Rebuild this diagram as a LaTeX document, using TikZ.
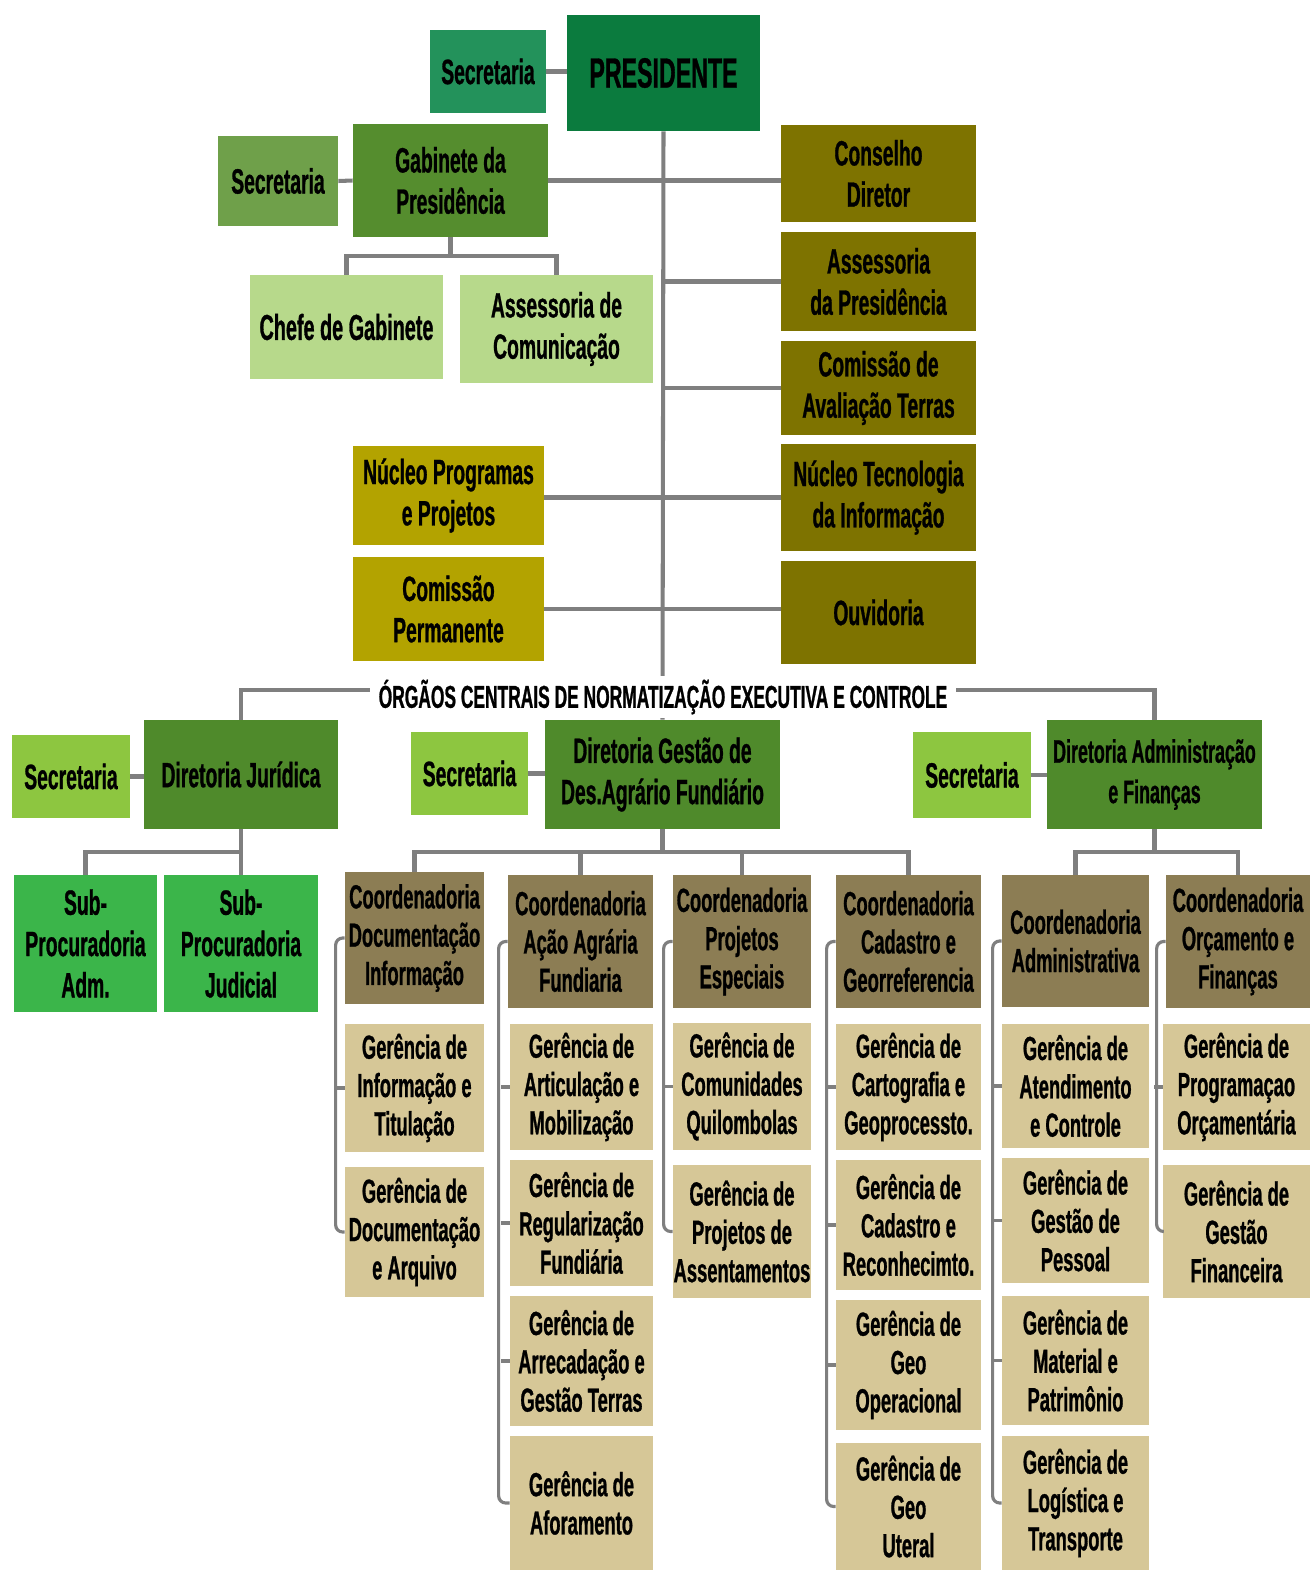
\documentclass[tikz,border=0pt]{standalone}
\usepackage{fontspec}
\setmainfont{Liberation Sans}[FakeStretch=0.55, BoldFeatures={FakeBold=0.8}]
\definecolor{cPres}{HTML}{0B7B3E}
\definecolor{cSecTop}{HTML}{23925B}
\definecolor{cGabSec}{HTML}{6FA04A}
\definecolor{cGab}{HTML}{558D2E}
\definecolor{cLight}{HTML}{B7D98B}
\definecolor{cOlive}{HTML}{7E7300}
\definecolor{cYel}{HTML}{B3A300}
\definecolor{cSecB}{HTML}{8DC640}
\definecolor{cDir}{HTML}{4F8A2B}
\definecolor{cSub}{HTML}{3BB54A}
\definecolor{cCoord}{HTML}{8C7D54}
\definecolor{cGer}{HTML}{D6C797}
\definecolor{cLine}{HTML}{7F7F7F}
\newcommand\orgbox[7]{%
  \pgfmathsetmacro\obw{(#4-#2)*0.02}%
  \pgfmathsetmacro\obh{(#5-#3)*0.02}%
  \node[#6, minimum width=\obw cm, minimum height=\obh cm] (#1) at ({(#2+#4)/2},{(#3+#5)/2}) {#7};}
\tikzset{
  base/.style={inner sep=0pt, align=center, text=black, font=\bfseries\fontsize{20}{23.5}\selectfont},
  small/.style={base, font=\bfseries\fontsize{19}{21.8}\selectfont},
  coordbox/.style={small, fill=cCoord},
  gerbox/.style={small, fill=cGer},
  conn/.style={draw=cLine, line width=2.3pt},
  brk/.style={draw=cLine, line width=1.8pt, rounded corners=4pt},
  sectitle/.style={fill=white, inner xsep=5pt, inner ysep=2pt, font=\bfseries\fontsize{18}{20}\selectfont}
}
\begin{document}
\begin{tikzpicture}[x=0.02cm, y=-0.02cm]
\useasboundingbox (0,0) rectangle (1312,1570);
% ---- boxes: top
\orgbox{secTop}{430}{30}{546}{113}{base, fill=cSecTop}{Secretaria}
\orgbox{pres}{567}{15}{760}{131}{base, fill=cPres, font=\bfseries\fontsize{24}{28}\selectfont}{PRESIDENTE}
\orgbox{gabSec}{218}{136}{338}{226}{base, fill=cGabSec}{Secretaria}
\orgbox{gab}{353}{124}{548}{237}{base, fill=cGab}{Gabinete da\\Presidência}
\orgbox{chefe}{250}{275}{443}{379}{base, fill=cLight, font=\bfseries\fontsize{20.5}{24}\selectfont}{Chefe de Gabinete}
\orgbox{ascom}{460}{275}{653}{383}{base, fill=cLight}{Assessoria de\\Comunicação}
\orgbox{conselho}{781}{125}{976}{222}{base, fill=cOlive}{Conselho\\Diretor}
\orgbox{asspres}{781}{232}{976}{331}{base, fill=cOlive}{Assessoria\\da Presidência}
\orgbox{comav}{781}{341}{976}{435}{base, fill=cOlive}{Comissão de\\Avaliação Terras}
\orgbox{nucTec}{781}{444}{976}{551}{base, fill=cOlive}{Núcleo Tecnologia\\da Informação}
\orgbox{ouv}{781}{561}{976}{664}{base, fill=cOlive}{Ouvidoria}
\orgbox{nucProg}{353}{446}{544}{545}{base, fill=cYel}{Núcleo Programas\\e Projetos}
\orgbox{comPerm}{353}{557}{544}{661}{base, fill=cYel}{Comissão\\Permanente}
% ---- directorates
\orgbox{secJur}{12}{735}{130}{818}{base, fill=cSecB}{Secretaria}
\orgbox{dirJur}{144}{720}{338}{829}{base, fill=cDir}{Diretoria Jurídica}
\orgbox{secGes}{411}{732}{528}{815}{base, fill=cSecB}{Secretaria}
\orgbox{dirGes}{545}{720}{780}{829}{base, fill=cDir}{Diretoria Gestão de\\Des.Agrário Fundiário}
\orgbox{secAdm}{913}{732}{1031}{818}{base, fill=cSecB}{Secretaria}
\orgbox{dirAdm}{1047}{720}{1262}{829}{base, fill=cDir, font=\bfseries\fontsize{18.5}{23}\selectfont}{Diretoria Administração\\e Finanças}
\orgbox{subAdm}{14}{875}{157}{1012}{base, fill=cSub}{Sub-\\Procuradoria\\Adm.}
\orgbox{subJud}{164}{875}{318}{1012}{base, fill=cSub}{Sub-\\Procuradoria\\Judicial}
% ---- coordenadorias
\orgbox{c1}{345}{872}{484}{1004}{coordbox}{Coordenadoria\\Documentação\\Informação}
\orgbox{c2}{508}{875}{653}{1008}{coordbox}{Coordenadoria\\Ação Agrária\\Fundiaria}
\orgbox{c3}{673}{875}{811}{1008}{coordbox}{Coordenadoria\\Projetos\\Especiais}
\orgbox{c4}{836}{875}{981}{1008}{coordbox}{Coordenadoria\\Cadastro e\\Georreferencia}
\orgbox{c5}{1002}{875}{1149}{1007}{coordbox}{Coordenadoria\\Administrativa}
\orgbox{c6}{1166}{875}{1310}{1008}{coordbox}{Coordenadoria\\Orçamento e\\Finanças}
% ---- gerencias
\orgbox{g11}{345}{1024}{484}{1152}{gerbox}{Gerência de\\Informação e\\Titulação}
\orgbox{g12}{345}{1167}{484}{1297}{gerbox}{Gerência de\\Documentação\\e Arquivo}
\orgbox{g21}{510}{1024}{653}{1150}{gerbox}{Gerência de\\Articulação e\\Mobilização}
\orgbox{g22}{510}{1160}{653}{1286}{gerbox}{Gerência de\\Regularização\\Fundiária}
\orgbox{g23}{510}{1296}{653}{1426}{gerbox}{Gerência de\\Arrecadação e\\Gestão Terras}
\orgbox{g24}{510}{1436}{653}{1570}{gerbox}{Gerência de\\Aforamento}
\orgbox{g31}{673}{1023}{811}{1150}{gerbox}{Gerência de\\Comunidades\\Quilombolas}
\orgbox{g32}{673}{1165}{811}{1298}{gerbox}{Gerência de\\Projetos de\\Assentamentos}
\orgbox{g41}{836}{1024}{981}{1150}{gerbox}{Gerência de\\Cartografia e\\Geoprocessto.}
\orgbox{g42}{836}{1160}{981}{1290}{gerbox}{Gerência de\\Cadastro e\\Reconhecimto.}
\orgbox{g43}{836}{1300}{981}{1430}{gerbox}{Gerência de\\Geo\\Operacional}
\orgbox{g44}{836}{1443}{981}{1570}{gerbox}{Gerência de\\Geo\\Uteral}
\orgbox{g51}{1002}{1024}{1149}{1148}{gerbox}{Gerência de\\Atendimento\\e Controle}
\orgbox{g52}{1002}{1158}{1149}{1283}{gerbox}{Gerência de\\Gestão de\\Pessoal}
\orgbox{g53}{1002}{1296}{1149}{1425}{gerbox}{Gerência de\\Material e\\Patrimônio}
\orgbox{g54}{1002}{1436}{1149}{1570}{gerbox}{Gerência de\\Logística e\\Transporte}
\orgbox{g61}{1163}{1024}{1310}{1150}{gerbox}{Gerência de\\Programaçao\\Orçamentária}
\orgbox{g62}{1163}{1165}{1310}{1298}{gerbox}{Gerência de\\Gestão\\Financeira}
% ---- connectors
\draw[conn] (secTop.east) -- (secTop.east -| pres.west);
\draw[conn] (pres.south) -- (dirGes.north);
\draw[conn] (gabSec.east) -- (gab.west);
\draw[conn] (gab.east) -- (gab.east -| conselho.west);
\draw[conn] (gab.south) -- ++(0,19) coordinate (gabj) -| (chefe.north);
\draw[conn] (gabj) -| (ascom.north);
\draw[conn] (pres.south |- asspres.west) -- (asspres.west);
\draw[conn] (pres.south |- comav.west) -- (comav.west);
\draw[conn] (nucProg.east |- nucTec.west) -- (nucTec.west);
\draw[conn] (comPerm.east) -- (comPerm.east -| ouv.west);
\coordinate (hl) at (663,690);
\draw[conn] (dirJur.north) |- (hl) -| (dirAdm.north);
\draw[conn] (secJur.east) -- (secJur.east -| dirJur.west);
\draw[conn] (secGes.east) -- (secGes.east -| dirGes.west);
\draw[conn] (secAdm.east) -- (secAdm.east -| dirAdm.west);
\draw[conn] (dirJur.south) -- ++(0,23) coordinate (jj) -| (subAdm.north);
\draw[conn] (jj) -| (subJud.north);
\draw[conn] (dirGes.south) -- ++(0,23) coordinate (gj);
\draw[conn] (gj) -| (c1.north);
\draw[conn] (gj) -| (c2.north);
\draw[conn] (gj) -| (c3.north);
\draw[conn] (gj) -| (c4.north);
\draw[conn] (dirAdm.south) -- ++(0,23) coordinate (aj) -| (c5.north);
\draw[conn] (aj) -| (c6.north);
% brackets
\draw[brk] (c1.west) -- ++(-9,0) |- (g12.west);
\draw[brk] (g11.west) -- ++(-9,0);
\draw[brk] (c2.west) -- ++(-9,0) |- (g24.west);
\draw[brk] (g21.west) -- ++(-9,0);
\draw[brk] (g22.west) -- ++(-9,0);
\draw[brk] (g23.west) -- ++(-9,0);
\draw[brk] (c3.west) -- ++(-9,0) |- (g32.west);
\draw[brk] (g31.west) -- ++(-9,0);
\draw[brk] (c4.west) -- ++(-9,0) |- (g44.west);
\draw[brk] (g41.west) -- ++(-9,0);
\draw[brk] (g42.west) -- ++(-9,0);
\draw[brk] (g43.west) -- ++(-9,0);
\draw[brk] (c5.west) -- ++(-9,0) |- (g54.west);
\draw[brk] (g51.west) -- ++(-9,0);
\draw[brk] (g52.west) -- ++(-9,0);
\draw[brk] (g53.west) -- ++(-9,0);
\draw[brk] (c6.west) -- ++(-9,0) |- (g62.west);
\draw[brk] (g61.west) -- ++(-9,0);
\node[sectitle] (orgaos) at (663,697) {ÓRGÃOS CENTRAIS DE NORMATIZAÇÃO EXECUTIVA E CONTROLE};
\end{tikzpicture}
\end{document}
